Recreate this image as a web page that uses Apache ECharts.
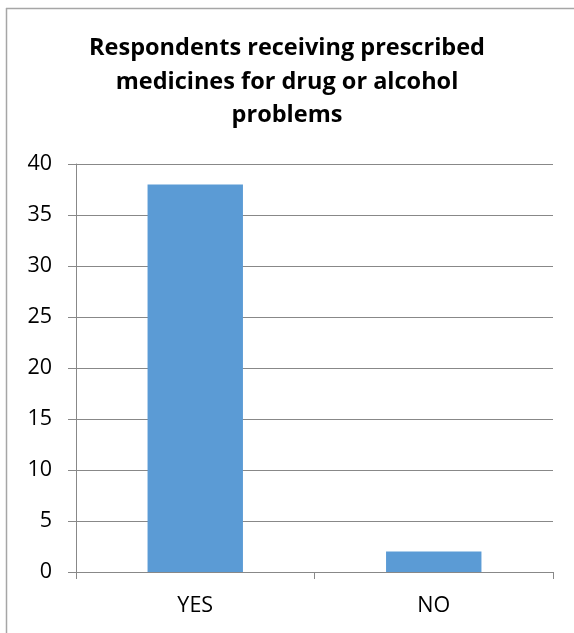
<!DOCTYPE html>
<html>
<head>
<meta charset="utf-8">
<script src="https://cdn.jsdelivr.net/npm/echarts@6/dist/echarts.min.js"></script>
<style>
html,body{margin:0;padding:0;background:#fff;}
#chart{width:574px;height:633px;}
</style>
</head>
<body>
<div id="chart"></div>
<script>
const titleText = 'Respondents receiving prescribed\nmedicines for drug or alcohol\nproblems';
const categories = ['YES', 'NO'];
const values = [38, 2];
const yTicks = { min: 0, max: 40, interval: 5 };

const chart = echarts.init(document.getElementById('chart'));
const font = '"Open Sans", Lato, sans-serif';
chart.setOption({
  backgroundColor: '#ffffff',
  animation: false,
  title: {
    text: titleText,
    left: 'center',
    top: 27,
    textStyle: { fontFamily: font, fontSize: 23.5, fontWeight: 'bold', color: '#000', lineHeight: 33.5 }
  },
  graphic: [
    { type: 'line', shape: { x1: 6.5, y1: 8, x2: 6.5, y2: 633 }, style: { stroke: '#a6a6a6', lineWidth: 1.5 } },
    { type: 'line', shape: { x1: 6, y1: 8.5, x2: 574, y2: 8.5 }, style: { stroke: '#a6a6a6', lineWidth: 1.5 } }
  ],
  grid: { left: 76, right: 21, top: 164, bottom: 61, containLabel: false },
  xAxis: {
    type: 'category',
    data: categories,
    axisLine: { lineStyle: { color: '#888', width: 1 } },
    axisTick: { show: true, length: 7, lineStyle: { color: '#888' } },
    axisLabel: { fontFamily: font, fontSize: 21.5, color: '#000', margin: 23 }
  },
  yAxis: {
    type: 'value',
    min: yTicks.min, max: yTicks.max, interval: yTicks.interval,
    axisLine: { show: true, lineStyle: { color: '#888', width: 1 } },
    axisTick: { show: true, length: 8, lineStyle: { color: '#888' } },
    splitLine: { lineStyle: { color: '#888', width: 1 } },
    axisLabel: { fontFamily: font, fontSize: 21.5, color: '#000', margin: 24 }
  },
  series: [{
    type: 'bar',
    data: values,
    barWidth: '40%',
    itemStyle: { color: '#5b9bd5' }
  }]
});
</script>
</body>
</html>
